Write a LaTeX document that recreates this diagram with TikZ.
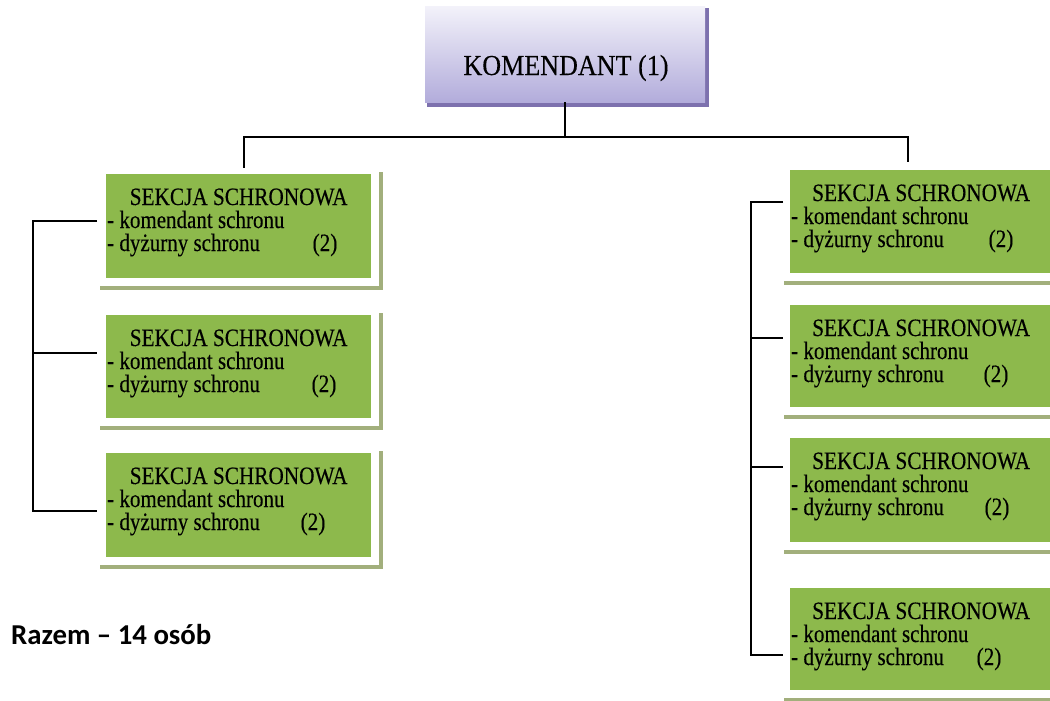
\documentclass[tikz,border=0pt]{standalone}
\usepackage{fontspec}
\setmainfont{Liberation Serif}
\newfontfamily\condA[FakeStretch=0.85,FakeBold=0.25]{Liberation Serif}
\newfontfamily\condB[FakeStretch=0.84,FakeBold=0.25]{Liberation Serif}
\newfontfamily\condC[FakeStretch=0.9,FakeBold=0.2]{Liberation Serif}
\newfontfamily\carl{Carlito}
\usetikzlibrary{calc}
\definecolor{boxgreen}{HTML}{8DB94C}
\definecolor{shadegreen}{HTML}{A2AF7C}
\definecolor{lavtop}{HTML}{F3F2FA}
\definecolor{lavbot}{HTML}{B2ACDB}
\definecolor{lavedge}{HTML}{7D71AE}
\tikzset{
  sekbox/.style={draw=none, fill=boxgreen, inner sep=0pt, anchor=north west},
  sektitle/.style={inner sep=0pt, anchor=base, text height=14pt, text depth=3pt, font=\condA\fontsize{25}{27}\selectfont},
  sekline/.style={inner sep=0pt, anchor=base west, text height=14pt, text depth=4pt, font=\condB\fontsize{25}{27}\selectfont},
  conn/.style={draw=black, line width=1.6pt},
  shadowstrip/.style={fill=shadegreen, draw=none}
}
\newcommand\mkbox[6]{%
  \fill[shadowstrip] (#2-6,#5+8) rectangle (#4+12,#5+12);
  \fill[shadowstrip] (#4+8,#3-2) rectangle (#4+12,#5+12);
  \node[sekbox, minimum width=#4-#2, minimum height=#5-#3] (#1) at (#2,#3) {};
  \node[sektitle] (#1t) at ($(#1.north)+(0,31)$) {SEKCJA SCHRONOWA};
  \node[sekline] (#1a) at ($(#1.north west)+(1,54)$) {- komendant schronu};
  \node[sekline] (#1b) at ($(#1.north west)+(1,77)$) {- dyżurny schronu};
  \node[sektitle] (#1n) at ($(#1.north west)+(#6,77)$) {(2)};
}
\begin{document}
\begin{tikzpicture}[x=1pt,y=-1pt]
\useasboundingbox (0,0) rectangle (1050,701);
\fill[white] (0,0) rectangle (1050,701);

% top box
\fill[lavedge] (427,8) rectangle (709,107);
\node[inner sep=0pt, anchor=north west, minimum width=280, minimum height=96,
      top color=lavtop, bottom color=lavbot, draw=none] (top) at (425,6) {};
\node[inner sep=0pt, anchor=base, font=\condC\fontsize{29}{31}\selectfont] (topt) at (566,75) {KOMENDANT (1)};

% left boxes
\mkbox{L1}{106}{174}{371}{278}{219}
\mkbox{L2}{106}{315}{371}{418}{218}
\mkbox{L3}{106}{453}{371}{557}{207}
% right boxes
\mkbox{R1}{790}{170}{1052}{273}{211}
\mkbox{R2}{790}{305}{1052}{407}{206}
\mkbox{R3}{790}{438}{1052}{542}{207}
\mkbox{R4}{790}{588}{1052}{690}{199}

% connectors
\coordinate (hL) at (244,137);
\coordinate (hR) at (908,137);
\draw[conn] (top.south) -- (top.south |- hL);
\draw[conn, line cap=rect] (hL) -- (hR);
\draw[conn, shorten >=6pt] (hL) -- (hL |- L1.north);
\draw[conn, shorten >=8pt] (hR) -- (hR |- R1.north);

\coordinate (bL1) at (33,221);
\coordinate (bL2) at (33,353);
\coordinate (bL3) at (33,511);
\draw[conn, shorten <=9pt, shorten >=9pt] (L1.west |- bL1) -- (bL1) -- (bL3) -- (bL3 -| L3.west);
\draw[conn, shorten >=9pt] (bL2) -- (bL2 -| L2.west);

\coordinate (bR1) at (751,202);
\coordinate (bR2) at (751,338);
\coordinate (bR3) at (751,467);
\coordinate (bR4) at (751,655);
\draw[conn, shorten <=7pt, shorten >=7pt] (R1.west |- bR1) -- (bR1) -- (bR4) -- (bR4 -| R4.west);
\draw[conn, shorten >=7pt] (bR2) -- (bR2 -| R2.west);
\draw[conn, shorten >=7pt] (bR3) -- (bR3 -| R3.west);

\node[inner sep=0pt, anchor=west, font=\carl\bfseries\fontsize{28.8}{30}\selectfont] (razem) at (11,634) {Razem – 14 osób};
\end{tikzpicture}
\end{document}
